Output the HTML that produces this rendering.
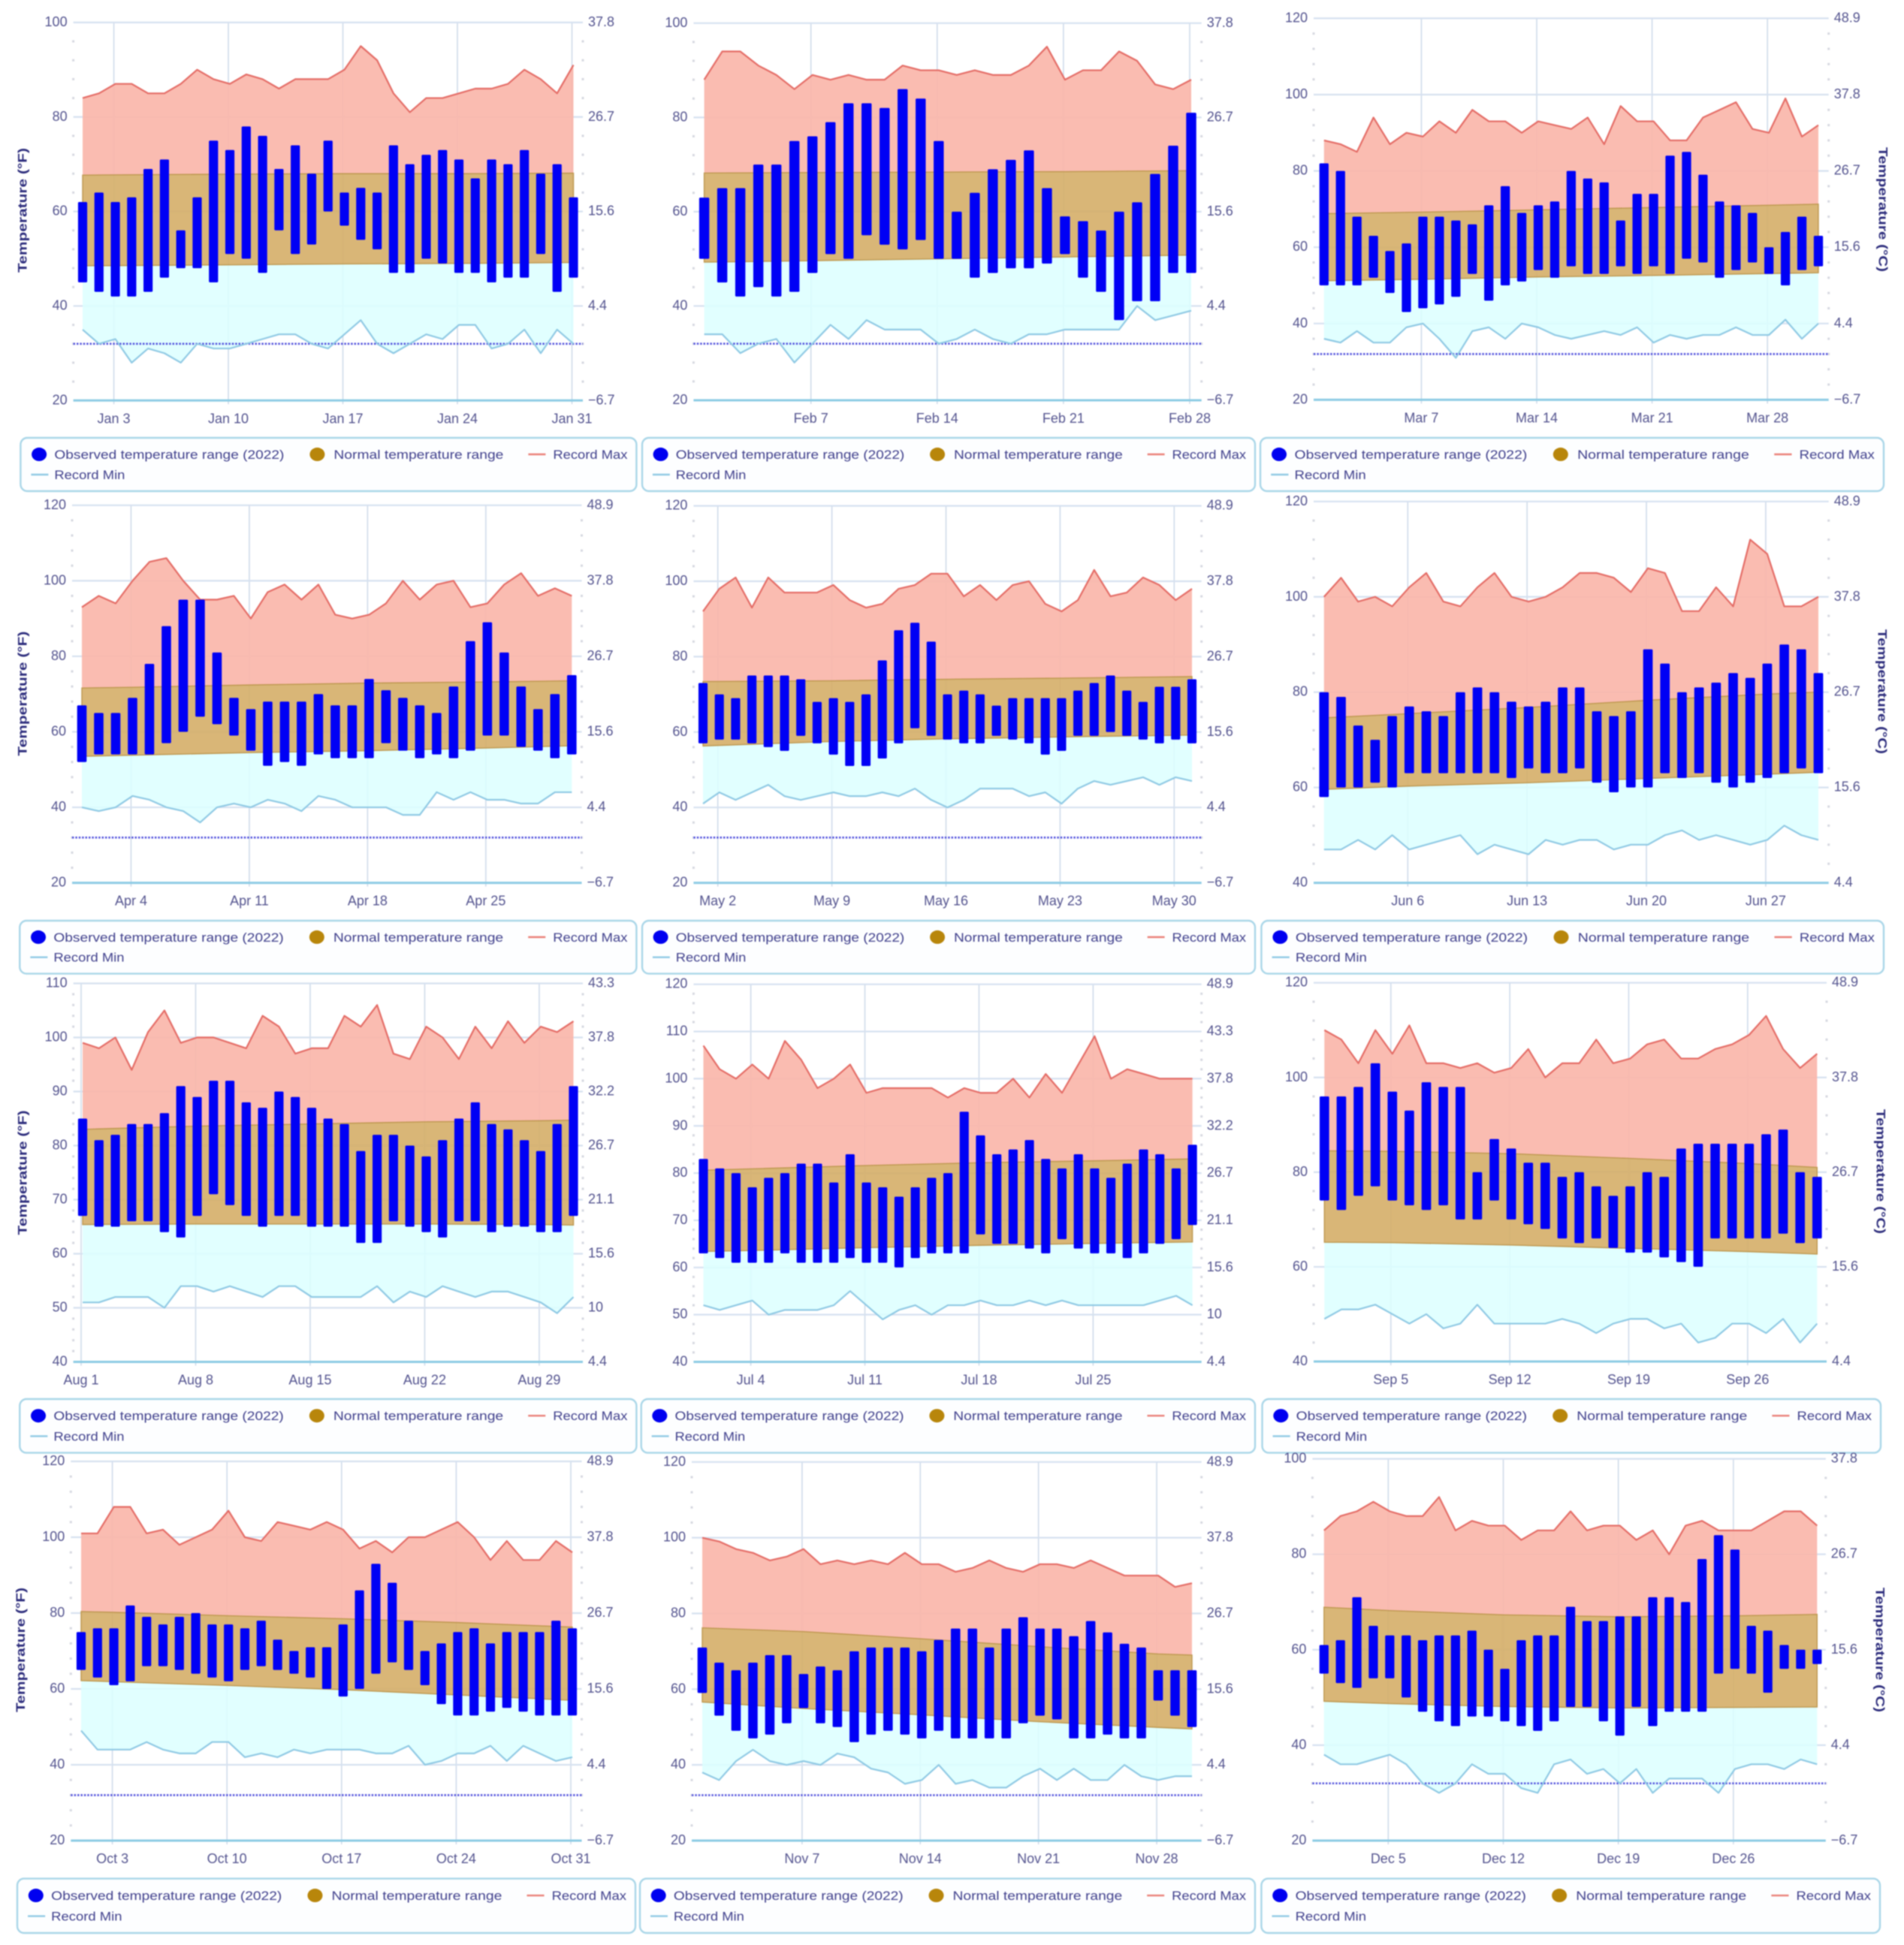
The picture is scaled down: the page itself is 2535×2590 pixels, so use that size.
<!DOCTYPE html>
<html lang="en">
<head>
<meta charset="utf-8">
<title>Observed temperature by month, 2022</title>
<style>
html,body{margin:0;padding:0;background:#fff;width:2535px;height:2590px;overflow:hidden}
svg{display:block;filter:blur(0.9px)}
text{font-family:"Liberation Sans",sans-serif}
</style>
</head>
<body>
<svg id="chart" xmlns="http://www.w3.org/2000/svg" width="2535" height="2590" viewBox="0 0 2535 2590"></svg>
<script>
const janHigh=[62,64,62,63,69,71,56,63,75,73,78,76,69,74,68,75,64,65,64,74,70,72,73,71,67,71,70,73,68,70,63];
const janLow=[45,43,42,42,43,46,48,48,45,51,50,47,56,51,53,60,57,54,52,47,47,50,49,47,47,45,46,46,51,43,46];
const janRecordMax=[84,85,87,87,85,85,87,90,88,87,89,88,86,88,88,88,90,95,92,85,81,84,84,85,86,86,87,90,88,85,91];
const janRecordMin=[35,32,33,28,31,30,28,32,31,31,32,33,34,34,32,31,34,37,32,30,32,34,33,36,36,31,32,35,30,35,32];
const janNormalDays=[1,10,17,24,31];
const janNormalMax=[67.7,67.9,68,68,68.1];
const janNormalMin=[48.5,48.7,48.9,49,49.2];

const febHigh=[63,65,65,70,70,75,76,79,83,83,82,86,84,75,60,64,69,71,73,65,59,58,56,60,62,68,74,81];
const febLow=[50,45,42,44,42,43,47,51,50,55,53,52,54,50,50,46,47,48,48,49,51,46,43,37,41,41,47,47];
const febRecordMax=[88,94,94,91,89,86,89,88,89,88,88,91,90,90,89,90,89,89,91,95,88,90,90,94,92,87,86,88];
const febRecordMin=[34,34,30,32,33,28,32,36,33,37,35,35,35,32,33,35,33,32,34,34,35,35,35,35,40,37,38,39];
const febNormalDays=[1,7,14,21,28];
const febNormalMax=[68.2,68.3,68.4,68.5,68.7];
const febNormalMin=[49.3,49.6,50,50.4,50.8];

const marHigh=[82,80,68,63,59,61,68,68,67,66,71,76,69,71,72,80,78,77,67,74,74,84,85,79,72,71,69,60,64,68,63];
const marLow=[50,50,50,52,48,43,44,45,47,53,46,50,51,54,52,55,53,53,55,53,55,53,57,56,52,54,56,53,50,54,55];
const marRecordMax=[88,87,85,94,87,90,89,93,90,96,93,93,90,93,92,91,94,87,97,93,93,88,88,94,96,98,91,90,99,89,92];
const marRecordMin=[36,35,38,35,35,39,40,36,31,38,39,36,40,39,37,36,37,38,37,39,35,37,36,37,37,39,37,37,41,36,40];
const marNormalDays=[1,7,14,21,28,31];
const marNormalMax=[68.8,69.2,69.8,70.4,71,71.3];
const marNormalMin=[51.2,51.6,52.2,52.6,53.1,53.3];

const aprHigh=[67,65,65,69,78,88,95,95,81,69,66,68,68,68,70,67,67,74,71,69,67,65,72,84,89,81,72,66,70,75];
const aprLow=[52,54,54,54,54,57,60,64,62,59,55,51,52,51,54,53,53,53,57,55,53,54,53,55,59,59,56,55,53,54];
const aprRecordMax=[93,96,94,100,105,106,100,95,95,96,90,97,99,95,99,91,90,91,94,100,95,99,100,93,94,99,102,96,98,96];
const aprRecordMin=[40,39,40,43,42,40,39,36,40,41,40,42,41,39,43,42,40,40,40,38,38,44,42,44,42,42,41,41,44,44];
const aprNormalDays=[1,4,11,18,25,30];
const aprNormalMax=[71.6,71.8,72.4,72.9,73.2,73.5];
const aprNormalMin=[53.5,53.8,54.5,55,55.7,56.3];

const mayHigh=[73,70,69,75,75,75,74,68,69,68,70,79,87,89,84,70,71,70,67,69,69,69,69,71,73,75,71,68,72,72,74];
const mayLow=[57,58,58,57,56,55,59,57,54,51,51,53,57,61,59,58,57,57,59,58,57,54,55,59,59,60,59,58,57,58,57];
const mayRecordMax=[92,98,101,93,101,97,97,97,99,95,93,94,98,99,102,102,96,99,95,99,100,94,92,95,103,96,97,101,99,95,98];
const mayRecordMin=[41,44,42,44,46,43,42,43,44,43,43,44,43,45,42,40,42,45,45,45,43,44,41,45,47,46,47,48,46,48,47];
const mayNormalDays=[1,9,16,23,31];
const mayNormalMax=[73.4,73.6,74,74.3,74.7];
const mayNormalMin=[56.3,57.5,58.2,58.7,59.2];

const junHigh=[80,79,73,70,75,77,76,75,80,81,80,78,77,78,81,81,76,75,76,89,86,80,81,82,84,83,86,90,89,84];
const junLow=[58,60,60,61,60,63,63,63,63,63,63,62,64,63,63,64,61,59,60,60,63,62,63,61,60,61,62,63,64,63];
const junRecordMax=[100,104,99,100,98,102,105,99,98,102,105,100,99,100,102,105,105,104,101,106,105,97,97,102,98,112,109,98,98,100];
const junRecordMin=[47,47,49,47,50,47,48,49,50,46,48,47,46,49,48,49,49,47,48,48,50,51,49,50,49,48,49,52,50,49];
const junNormalDays=[1,6,13,20,27,30];
const junNormalMax=[74.6,75.5,76.8,78.3,79.6,80];
const junNormalMin=[59.6,60.3,61,61.9,62.8,63.2];

const augHigh=[85,81,82,84,84,86,91,89,92,92,88,87,90,89,87,85,84,79,82,82,80,78,81,85,88,84,83,81,79,84,91];
const augLow=[67,65,65,66,66,64,63,67,71,69,67,65,67,67,65,65,65,62,62,66,65,64,63,66,66,64,65,65,64,64,67];
const augRecordMax=[99,98,100,94,101,105,99,100,100,99,98,104,102,97,98,98,104,102,106,97,96,102,100,96,102,98,103,99,102,101,103];
const augRecordMin=[51,51,52,52,52,50,54,54,53,54,53,52,54,54,52,52,52,52,54,51,53,52,54,53,52,53,53,52,51,49,52];
const augNormalDays=[1,8,15,22,29,31];
const augNormalMax=[83,83.6,84,84.4,84.6,84.7];
const augNormalMin=[65.4,65.5,65.5,65.5,65.4,65.3];

const julHigh=[83,81,80,77,79,80,82,82,78,84,78,77,75,77,79,80,93,88,84,85,87,83,81,84,81,79,82,85,84,81,86];
const julLow=[63,62,61,61,61,63,61,61,61,62,61,61,60,62,63,63,63,67,65,65,64,63,66,64,63,63,62,63,65,66,69];
const julRecordMax=[107,102,100,103,100,108,104,98,100,103,97,98,98,98,98,96,98,97,97,100,96,101,97,103,109,100,102,101,100,100,100];
const julRecordMin=[52,51,52,53,50,51,51,51,52,55,52,49,51,52,50,52,52,53,52,52,53,52,53,52,52,52,52,52,53,54,52];
const julNormalDays=[1,4,11,18,25,31];
const julNormalMax=[80.6,80.9,81.6,82.2,82.6,83];
const julNormalMin=[63.4,63.6,64.2,64.7,65.1,65.4];

const sepHigh=[96,96,98,103,97,93,99,98,98,80,87,85,82,82,79,80,77,75,77,80,79,85,86,86,86,86,88,89,80,79];
const sepLow=[74,72,75,77,74,73,72,73,70,70,74,70,69,68,66,65,66,64,63,63,62,61,60,66,66,66,66,67,65,66];
const sepRecordMax=[110,108,103,110,105,111,103,103,102,103,101,102,106,100,103,103,108,103,104,107,108,104,104,106,107,109,113,106,102,105];
const sepRecordMin=[49,51,51,52,50,48,50,47,48,52,48,48,48,48,49,48,46,48,49,49,47,48,44,45,48,48,46,49,44,48];
const sepNormalDays=[1,5,12,19,26,30];
const sepNormalMax=[84.5,84.4,83.9,82.9,81.8,81];
const sepNormalMin=[65.2,65.1,64.6,63.9,63.2,62.7];

const octHigh=[75,76,76,82,79,77,79,80,77,77,76,78,73,70,71,71,77,86,93,88,78,70,72,75,76,72,75,75,75,78,76];
const octLow=[65,63,61,62,66,66,65,64,63,62,65,66,65,64,63,60,58,60,64,67,65,61,56,53,53,54,55,54,53,53,53];
const octRecordMax=[101,101,108,108,101,102,98,100,102,107,100,99,104,103,102,104,102,97,99,96,100,100,102,104,100,94,99,94,94,99,96];
const octRecordMin=[49,44,44,44,46,44,43,43,46,46,42,43,42,44,43,44,44,44,43,43,45,40,41,43,43,45,41,45,43,41,42];
const octNormalDays=[1,3,10,17,24,31];
const octNormalMax=[80.4,80.2,79.3,78.5,77.5,76.3];
const octNormalMin=[62.2,61.9,60.9,59.8,58.4,57];

const novHigh=[71,67,65,67,69,69,64,66,65,70,71,71,71,70,73,76,76,71,76,79,76,76,74,78,75,72,71,65,65,65];
const novLow=[59,53,49,47,48,51,55,51,50,46,48,49,48,47,49,47,47,47,47,51,53,52,47,47,48,47,47,57,53,50];
const novRecordMax=[100,99,97,96,94,95,97,93,94,93,94,93,96,93,93,91,92,94,92,91,93,93,92,94,92,90,90,90,87,88];
const novRecordMin=[38,36,41,44,41,40,41,40,43,42,39,38,35,36,40,35,36,34,34,37,39,36,39,36,36,40,37,36,37,37];
const novNormalDays=[1,7,14,21,28,30];
const novNormalMax=[76.2,75.2,73.3,71.2,69.3,69];
const novNormalMin=[56.6,54.9,53.2,51.4,49.9,49.5];

const decHigh=[61,62,71,65,63,63,62,63,63,64,60,56,62,63,63,69,66,66,67,67,71,71,70,79,84,81,65,64,61,60,60];
const decLow=[55,53,52,54,54,50,47,45,44,46,46,45,44,43,45,48,48,45,42,48,44,47,47,47,55,56,55,51,56,56,57];
const decRecordMax=[85,88,89,91,89,88,88,92,85,87,86,86,83,85,85,89,85,86,86,83,85,80,86,87,85,85,85,87,89,89,86];
const decRecordMin=[38,36,36,37,38,36,32,30,32,36,34,34,31,30,36,37,34,35,32,35,30,33,33,33,30,35,36,36,35,37,36];
const decNormalDays=[1,5,12,19,26,31];
const decNormalMax=[68.9,68.2,67.3,66.9,67.1,67.4];
const decNormalMin=[49.2,48.7,48.1,47.8,47.9,48];

const ticks20to100=[20,40,60,80,100];
const ticks20to120=[20,40,60,80,100,120];
const ticks40to120=[40,60,80,100,120];
const ticks40to110=[40,50,60,70,80,90,100,110];
const ticks40to120by10=[40,50,60,70,80,90,100,110,120];
const celsius20to100=['−6.7','4.4','15.6','26.7','37.8'];
const celsius20to120=['−6.7','4.4','15.6','26.7','37.8','48.9'];
const celsius40to120=['4.4','15.6','26.7','37.8','48.9'];
const celsius40to110=['4.4','10','15.6','21.1','26.7','32.2','37.8','43.3'];
const celsius40to120by10=['4.4','10','15.6','21.1','26.7','32.2','37.8','43.3','48.9'];

const janDateTicks=[3,10,17,24,31];
const febDateTicks=[7,14,21,28];
const marDateTicks=[7,14,21,28];
const aprDateTicks=[4,11,18,25];
const mayDateTicks=[2,9,16,23,30];
const junDateTicks=[6,13,20,27];
const augDateTicks=[1,8,15,22,29];
const julDateTicks=[4,11,18,25];
const sepDateTicks=[5,12,19,26];
const octDateTicks=[3,10,17,24,31];
const novDateTicks=[7,14,21,28];
const decDateTicks=[5,12,19,26];

const freezingPoint=32;

const panels=[
 {m:'Jan',hi:janHigh,lo:janLow,rMax:janRecordMax,rMin:janRecordMin,nD:janNormalDays,nMax:janNormalMax,nMin:janNormalMin,t:ticks20to100,c:celsius20to100,d:janDateTicks,L:97.6,R:776,x1:110,xN:763.5,top:29.9,bot:533.3,leg:[27.4,847.4,583,654],title:['F',31,280]},
 {m:'Feb',hi:febHigh,lo:febLow,rMax:febRecordMax,rMin:febRecordMin,nD:febNormalDays,nMax:febNormalMax,nMin:febNormalMin,t:ticks20to100,c:celsius20to100,d:febDateTicks,L:923.4,R:1599.7,x1:937.6,xN:1586,top:30.8,bot:533,leg:[855,1671,583,654]},
 {m:'Mar',hi:marHigh,lo:marLow,rMax:marRecordMax,rMin:marRecordMin,nD:marNormalDays,nMax:marNormalMax,nMin:marNormalMin,t:ticks20to120,c:celsius20to120,d:marDateTicks,L:1749,R:2434.7,x1:1762.8,xN:2421,top:24.4,bot:532.4,leg:[1678,2508,583,654],title:['C',2506,279]},
 {m:'Apr',hi:aprHigh,lo:aprLow,rMax:aprRecordMax,rMin:aprRecordMin,nD:aprNormalDays,nMax:aprNormalMax,nMin:aprNormalMin,t:ticks20to120,c:celsius20to120,d:aprDateTicks,L:96,R:774.5,x1:109,xN:761.3,top:672.8,bot:1175.6,leg:[26.3,847.4,1226,1296.6],title:['F',31,923.6]},
 {m:'May',hi:mayHigh,lo:mayLow,rMax:mayRecordMax,rMin:mayRecordMin,nD:mayNormalDays,nMax:mayNormalMax,nMin:mayNormalMin,t:ticks20to120,c:celsius20to120,d:mayDateTicks,L:923.4,R:1599.7,x1:936,xN:1587,top:673.6,bot:1175.6,leg:[855,1671,1226,1296.6]},
 {m:'Jun',hi:junHigh,lo:junLow,rMax:junRecordMax,rMin:junRecordMin,nD:junNormalDays,nMax:junNormalMax,nMin:junNormalMin,t:ticks40to120,c:celsius40to120,d:junDateTicks,L:1749,R:2434.7,x1:1762.8,xN:2421,top:667.8,bot:1175.6,leg:[1679.4,2508,1226,1296.6],title:['C',2505,921]},
 {m:'Aug',hi:augHigh,lo:augLow,rMax:augRecordMax,rMin:augRecordMin,nD:augNormalDays,nMax:augNormalMax,nMin:augNormalMin,t:ticks40to110,c:celsius40to110,d:augDateTicks,L:97.6,R:776,x1:110,xN:763.5,top:1309.5,bot:1813.5,leg:[26.3,847.4,1863,1934.6],title:['F',31,1561.5]},
 {m:'Jul',hi:julHigh,lo:julLow,rMax:julRecordMax,rMin:julRecordMin,nD:julNormalDays,nMax:julNormalMax,nMin:julNormalMin,t:ticks40to120by10,c:celsius40to120by10,d:julDateTicks,L:923.4,R:1599.7,x1:936.5,xN:1587.6,top:1310.7,bot:1813.5,leg:[853.7,1671,1863,1934.6]},
 {m:'Sep',hi:sepHigh,lo:sepLow,rMax:sepRecordMax,rMin:sepRecordMin,nD:sepNormalDays,nMax:sepNormalMax,nMin:sepNormalMin,t:ticks40to120,c:celsius40to120,d:sepDateTicks,L:1749,R:2432,x1:1763.3,xN:2419.3,top:1308.7,bot:1813,leg:[1680.5,2504,1863,1934.6],title:['C',2503,1560]},
 {m:'Oct',hi:octHigh,lo:octLow,rMax:octRecordMax,rMin:octRecordMin,nD:octNormalDays,nMax:octNormalMax,nMin:octNormalMin,t:ticks20to120,c:celsius20to120,d:octDateTicks,L:94.3,R:774.5,x1:108,xN:762,top:1946,bot:2451,leg:[23,846,2501.6,2574],title:['F',28.5,2197]},
 {m:'Nov',hi:novHigh,lo:novLow,rMax:novRecordMax,rMin:novRecordMin,nD:novNormalDays,nMax:novNormalMax,nMin:novNormalMin,t:ticks20to120,c:celsius20to120,d:novDateTicks,L:921,R:1599.7,x1:935,xN:1587,top:1946.8,bot:2451,leg:[852,1671,2501.6,2574]},
 {m:'Dec',hi:decHigh,lo:decLow,rMax:decRecordMax,rMin:decRecordMin,nD:decNormalDays,nMax:decNormalMax,nMin:decNormalMin,t:ticks20to100,c:celsius20to100,d:decDateTicks,L:1747.4,R:2430.8,x1:1762.8,xN:2419.3,top:1942.6,bot:2451,leg:[1679.4,2503,2501.6,2574],title:['C',2502,2197]}
];

const NS='http://www.w3.org/2000/svg';
const root=document.getElementById('chart');
function mk(parent,tag,attrs,content){
  const n=document.createElementNS(NS,tag);
  for(const k in attrs){n.setAttribute(k,attrs[k]);}
  if(content!==undefined){n.textContent=content;}
  parent.appendChild(n);
  return n;
}
const TICK_COLOR='#54548f';
const LEGEND_COLOR='#40408c';

panels.forEach(function(p){
  const g=mk(root,'g',{});
  
  

  const n=p.hi.length;
  const step=(p.xN-p.x1)/(n-1);
  const xScale=function(day){return p.x1+(day-1)*step;};
  const gridX=function(day){return xScale(day)-2;};
  const vMin=p.t[0];
  const vMax=p.t[p.t.length-1];
  const yScale=function(v){return p.bot-(v-vMin)*(p.bot-p.top)/(vMax-vMin);};
  const days=p.hi.map(function(_,i){return i+1;});

  // minor ticks
  const major=p.t[1]-p.t[0];
  for(let v=vMin;v<vMax;v+=major/5){
    if((v-vMin)%major===0){continue;}
    const ml=mk(g,'line',{x1:p.L,x2:p.L,y1:yScale(v)-1.5,y2:yScale(v)+1.5,stroke:'#d6d8e0','stroke-width':3});
    
    
    const mr=mk(g,'line',{x1:p.R,x2:p.R,y1:yScale(v)-1.5,y2:yScale(v)+1.5,stroke:'#d6d8e0','stroke-width':3});
    
    
  }

  // vertical grid
  p.d.forEach(function(day){
    const vg=mk(g,'line',{x1:gridX(day),x2:gridX(day),y1:p.top,y2:p.bot+5,stroke:'#cfdbea','stroke-width':1.6});
    
    
  });

  // horizontal grid
  p.t.forEach(function(v,i){
    const hg=mk(g,'line',{x1:p.L,x2:p.R,y1:yScale(v),y2:yScale(v),stroke:i===0?'#8ccbe4':'#d6e1f0','stroke-width':i===0?3:2.2});
    
    
  });

  const forward=function(ds,vs){return ds.map(function(d,i){return xScale(d)+','+yScale(vs[i]);});};
  const recordMaxPts=forward(days,p.rMax);
  const recordMinPts=forward(days,p.rMin);
  const normalMaxPts=forward(p.nD,p.nMax);
  const normalMinPts=forward(p.nD,p.nMin);

  const areaMax=mk(g,'polygon',{points:recordMaxPts.concat(normalMaxPts.slice().reverse()).join(' '),fill:'#fab6aa','fill-opacity':0.92});
  
  
  const areaMin=mk(g,'polygon',{points:normalMinPts.concat(recordMinPts.slice().reverse()).join(' '),fill:'#dcffff','fill-opacity':0.85});
  
  
  const areaNormal=mk(g,'polygon',{points:normalMaxPts.concat(normalMinPts.slice().reverse()).join(' '),fill:'#d5ae68','fill-opacity':0.9,stroke:'#bd974e','stroke-width':1.4});
  
  

  if(freezingPoint>=vMin){
    const fz=mk(g,'line',{x1:p.L,x2:p.R,y1:yScale(freezingPoint),y2:yScale(freezingPoint),stroke:'#4f4fdc','stroke-width':2.6,'stroke-dasharray':'2.4 2'});
    
    
  }

  const lineMax=mk(g,'polyline',{points:recordMaxPts.join(' '),fill:'none',stroke:'#e46c66','stroke-width':2.2,'stroke-linejoin':'round'});
  
  
  const lineMin=mk(g,'polyline',{points:recordMinPts.join(' '),fill:'none',stroke:'#8fc9e4','stroke-width':2.2,'stroke-linejoin':'round'});
  
  

  // observed bars
  const barW=step*0.56;
  days.forEach(function(day,i){
    const b=mk(g,'rect',{x:xScale(day)-barW/2,y:yScale(p.hi[i]),width:barW,height:yScale(p.lo[i])-yScale(p.hi[i]),rx:1.5,fill:'#0000f5'});
    
    
  });

  // y tick labels
  p.t.forEach(function(v,i){
    const a=mk(g,'text',{x:p.L-8,y:yScale(v)+5,'text-anchor':'end','font-size':18,fill:TICK_COLOR},String(v));
    
    
    const c=mk(g,'text',{x:p.R+7,y:yScale(v)+5,'font-size':18,fill:TICK_COLOR},p.c[i]);
    
    
  });

  // x tick labels
  p.d.forEach(function(day){
    const xl=mk(g,'text',{x:gridX(day),y:p.bot+30,'text-anchor':'middle','font-size':18,fill:TICK_COLOR},p.m+' '+day);
    
    
  });

  // axis title
  if(p.title){
    const rot=p.title[0]==='F'?-90:90;
    const tt=mk(g,'text',{x:p.title[1],y:p.title[2],transform:'rotate('+rot+' '+p.title[1]+' '+p.title[2]+')','text-anchor':'middle','dominant-baseline':'middle','font-size':17,'font-weight':'bold',fill:'#2c2c7c',textLength:166,lengthAdjust:'spacingAndGlyphs'},'Temperature (°'+p.title[0]+')');
    
    
  }

  // legend
  const lx=p.leg[0], lw=p.leg[1]-p.leg[0], ly=p.leg[2], lh=p.leg[3]-p.leg[2];
  const s=lw/820;
  const lg=mk(g,'g',{});
  
  
  const box=mk(lg,'rect',{x:lx,y:ly,width:lw,height:lh,rx:9,fill:'#fdfeff',stroke:'#a9d6e8','stroke-width':2.4});
  
  
  const row1=ly+lh*0.31, row2=ly+lh*0.69;

  const m1=mk(lg,'ellipse',{cx:lx+24.7*s,cy:row1,rx:10,ry:9,fill:'#0000f0'});
  
  
  const t1=mk(lg,'text',{x:lx+45*s,y:row1+6,'font-size':17,fill:LEGEND_COLOR,textLength:306*s,lengthAdjust:'spacingAndGlyphs'},'Observed temperature range (2022)');
  
  

  const m2=mk(lg,'ellipse',{cx:lx+395*s,cy:row1,rx:10,ry:9,fill:'#b8860b'});
  
  
  const t2=mk(lg,'text',{x:lx+417*s,y:row1+6,'font-size':17,fill:LEGEND_COLOR,textLength:226*s,lengthAdjust:'spacingAndGlyphs'},'Normal temperature range');
  
  

  const m3=mk(lg,'line',{x1:lx+676*s,x2:lx+699*s,y1:row1,y2:row1,stroke:'#ea8078','stroke-width':2.4});
  
  
  const t3=mk(lg,'text',{x:lx+709*s,y:row1+6,'font-size':17,fill:LEGEND_COLOR,textLength:99*s,lengthAdjust:'spacingAndGlyphs'},'Record Max');
  
  

  const m4=mk(lg,'line',{x1:lx+14*s,x2:lx+37*s,y1:row2,y2:row2,stroke:'#8fc9e4','stroke-width':2.4});
  
  
  const t4=mk(lg,'text',{x:lx+45*s,y:row2+6,'font-size':17,fill:LEGEND_COLOR,textLength:94*s,lengthAdjust:'spacingAndGlyphs'},'Record Min');
  
  
});
</script>
</body>
</html>
